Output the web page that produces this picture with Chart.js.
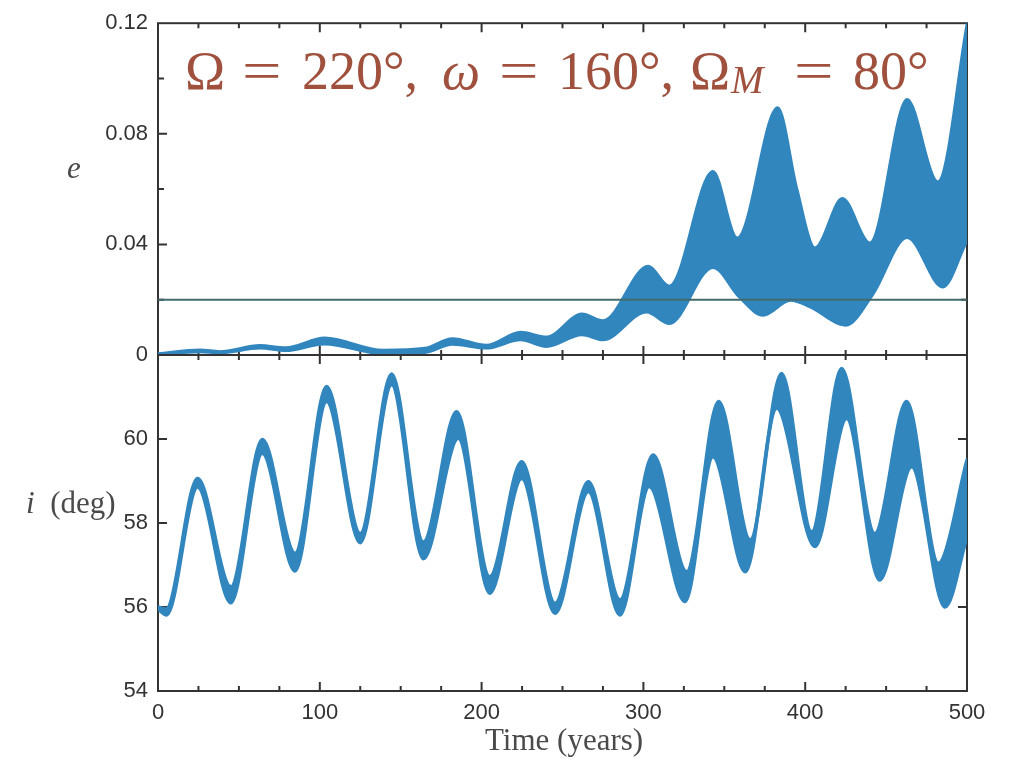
<!DOCTYPE html>
<html>
<head>
  <title>e and i vs time</title>
  <script src="https://cdn.jsdelivr.net/npm/chart.js"></script>
  <style>
    body { margin: 0; background: #fff; }
    #wrap { position: relative; width: 1015px; height: 761px; overflow: hidden; }
    canvas { position: absolute; left: 0; top: 0; }
    .lbl { position: absolute; font-family: "Liberation Serif", serif; color: #4a4a4a; font-size: 31px; line-height: 31px; white-space: nowrap; }
    .ttl { position: absolute; left: 0; top: 44px; font-family: "Liberation Serif", serif; color: #a0513e; font-size: 54px; line-height: 54px; }
    .ttl span { position: absolute; top: 0; white-space: nowrap; }
    .ttl .eq { transform: scaleX(1.3); transform-origin: left; }
  </style>
</head>
<body>
<div id="wrap">
  <canvas id="eChart" width="1015" height="761"></canvas>
  <canvas id="iChart" width="1015" height="761"></canvas>

  <div class="ttl">
    <span style="left:185px">Ω</span>
    <span class="eq" style="left:242px">=</span>
    <span style="left:302px">220°,</span>
    <span style="left:442px;font-style:italic">ω</span>
    <span class="eq" style="left:499px">=</span>
    <span style="left:558px">160°,</span>
    <span style="left:690px">Ω</span>
    <span style="left:731px;top:9px;font-size:39px;font-style:italic">M</span>
    <span class="eq" style="left:794px">=</span>
    <span style="left:853px">80°</span>
  </div>

  <div class="lbl" style="left:67px;top:152px"><i>e</i></div>
  <div class="lbl" style="left:26px;top:487px"><i>i</i>&nbsp;&nbsp;(deg)</div>
  <div class="lbl" style="left:485px;top:724px">Time (years)</div>
</div>

<script>
  // eccentricity band, upper and lower envelope (time in years)
  const eUpTime = [0, 26, 38, 63, 79, 103, 139, 165, 182, 203, 224, 240, 262, 275, 303, 316, 343, 358, 383, 395, 406, 423, 440, 463, 482, 500];
  const eUp     = [0.0005, 0.0019, 0.0013, 0.0035, 0.0027, 0.0062, 0.0018, 0.0025, 0.006, 0.0036, 0.0083, 0.0066, 0.0149, 0.0125, 0.0322, 0.025, 0.0665, 0.0424, 0.0895, 0.060, 0.0388, 0.0567, 0.0406, 0.0925, 0.0627, 0.12];
  const eLoTime = [0, 26, 38, 63, 79, 103, 139, 165, 182, 203, 224, 240, 262, 275, 302, 316, 343, 359, 374, 391, 403, 425, 442, 463, 485, 500];
  const eLo     = [0.0001, 0.0011, 0.0007, 0.0024, 0.0015, 0.0039, 0.0004, 0.0008, 0.0038, 0.0024, 0.0054, 0.003, 0.0072, 0.0054, 0.0155, 0.0113, 0.0316, 0.021, 0.0143, 0.0197, 0.0173, 0.0107, 0.022, 0.0424, 0.0245, 0.0412];
  const eLimit = 0.02;

  // inclination band (deg)
  const iUpTime = [0, 5, 24.5, 45, 64.5, 84.7, 104.2, 125, 144.4, 164, 184.6, 205, 224.8, 245.4, 266, 285.5, 306, 326.7, 346.5, 366, 385.4, 404, 422.5, 443, 462.7, 482.3, 500];
  const iUp     = [56.0, 55.95, 59.06, 56.48, 59.99, 57.28, 61.25, 57.75, 61.55, 57.55, 60.65, 56.72, 59.46, 56.09, 58.98, 56.17, 59.62, 56.84, 60.89, 57.6, 61.56, 57.79, 61.68, 57.75, 60.89, 57.04, 59.5];
  const iLoTime = [0, 5.3, 24.5, 45, 64.5, 84.7, 104.2, 125, 144.4, 164, 185.6, 205, 224.8, 245.4, 266, 285.5, 303.6, 325.7, 343, 363, 382.4, 406, 425.6, 446, 465.8, 486.4, 500];
  const iLo     = [55.95, 55.81, 58.86, 56.1, 59.66, 56.86, 60.89, 57.53, 61.29, 57.15, 60.02, 56.33, 59.06, 55.85, 58.75, 55.81, 58.87, 56.13, 59.58, 56.84, 60.73, 57.44, 60.49, 56.64, 59.34, 56.0, 57.67];

  // ticks
  const timeTicks = [0, 25, 50, 75, 100, 125, 150, 175, 200, 225, 250, 275, 300, 325, 350, 375, 400, 425, 450, 475, 500];
  const timeLabels = [0, 100, 200, 300, 400, 500];
  const eTicks = [0, 0.04, 0.08, 0.12];
  const iTicks = [54, 56, 58, 60];

  const blue = '#3186be';
  const tickFont = { family: 'Liberation Sans', size: 22 };

  const pts = (xs, ys) => xs.map((x, k) => ({ x: x, y: ys[k] }));

  // box + inward ticks on all four sides
  const framePlugin = {
    id: 'frame',
    beforeDatasetsDraw(chart, args, opts) {
      const { ctx, chartArea: a, scales } = chart;
      ctx.save();
      ctx.strokeStyle = '#333';
      ctx.lineWidth = 2;
      ctx.beginPath();
      timeTicks.forEach(t => {
        const x = scales.x.getPixelForValue(t);
        const len = t % 100 === 0 ? 9 : 5;
        ctx.moveTo(x, a.top); ctx.lineTo(x, a.top + len);
        ctx.moveTo(x, a.bottom); ctx.lineTo(x, a.bottom - len);
      });
      opts.marks.forEach(m => {
        const y = scales.y.getPixelForValue(m[0]);
        ctx.moveTo(a.left, y); ctx.lineTo(a.left + m[1], y);
        ctx.moveTo(a.right, y); ctx.lineTo(a.right - m[1], y);
      });
      ctx.stroke();
      ctx.strokeRect(a.left, a.top, a.right - a.left, a.bottom - a.top);
      ctx.restore();
    }
  };

  const band = (xsU, yU, xsL, yL, w) => [
    { data: pts(xsU, yU), borderColor: blue, backgroundColor: blue, borderWidth: w, fill: '+1', order: 1 },
    { data: pts(xsL, yL), borderColor: blue, backgroundColor: blue, borderWidth: w, fill: false, order: 1 }
  ];

  const common = {
    responsive: false,
    animation: false,
    devicePixelRatio: 1,
    elements: { point: { radius: 0 }, line: { cubicInterpolationMode: 'monotone', borderCapStyle: 'round', borderJoinStyle: 'round' } },
    events: []
  };

  new Chart(document.getElementById('eChart'), {
    type: 'line',
    data: {
      datasets: band(eUpTime, eUp, eLoTime, eLo, 2.5).concat([{
        data: [{ x: 0, y: eLimit }, { x: 500, y: eLimit }],
        borderColor: '#436a6c', borderWidth: 2, fill: false, order: 0
      }])
    },
    options: Object.assign({}, common, {
      layout: { padding: { left: 0, right: 48, top: 20, bottom: 406 } },
      plugins: { legend: { display: false }, tooltip: { enabled: false },
        frame: { marks: [[0.02, 6], [0.04, 9], [0.06, 6], [0.08, 9], [0.10, 6]] } },
      scales: {
        x: { type: 'linear', min: 0, max: 500, display: false },
        y: {
          type: 'linear', min: 0, max: 0.12,
          afterFit: s => { s.width = 158; },
          afterBuildTicks: s => { s.ticks = eTicks.map(v => ({ value: v })); },
          grid: { display: false, drawTicks: false },
          border: { display: false },
          ticks: { font: tickFont, color: '#333', padding: 10,
            callback: v => v === 0 ? '0' : v.toFixed(2) }
        }
      }
    }),
    plugins: [framePlugin]
  });

  new Chart(document.getElementById('iChart'), {
    type: 'line',
    data: { datasets: band(iUpTime, iUp, iLoTime, iLo, 3.5) },
    options: Object.assign({}, common, {
      layout: { padding: { left: 0, right: 48, top: 355, bottom: 0 } },
      plugins: { legend: { display: false }, tooltip: { enabled: false },
        frame: { marks: [[56, 9], [58, 9], [60, 9]] } },
      scales: {
        x: {
          type: 'linear', min: 0, max: 500,
          afterFit: s => { s.height = 70; },
          afterBuildTicks: s => { s.ticks = timeLabels.map(v => ({ value: v })); },
          grid: { display: false, drawTicks: false },
          border: { display: false },
          ticks: { font: tickFont, color: '#333', padding: 9, maxRotation: 0, autoSkip: false }
        },
        y: {
          type: 'linear', min: 54, max: 62,
          afterFit: s => { s.width = 158; },
          afterBuildTicks: s => { s.ticks = iTicks.map(v => ({ value: v })); },
          grid: { display: false, drawTicks: false },
          border: { display: false },
          ticks: { font: tickFont, color: '#333', padding: 10 }
        }
      }
    }),
    plugins: [framePlugin]
  });
</script>
</body>
</html>
